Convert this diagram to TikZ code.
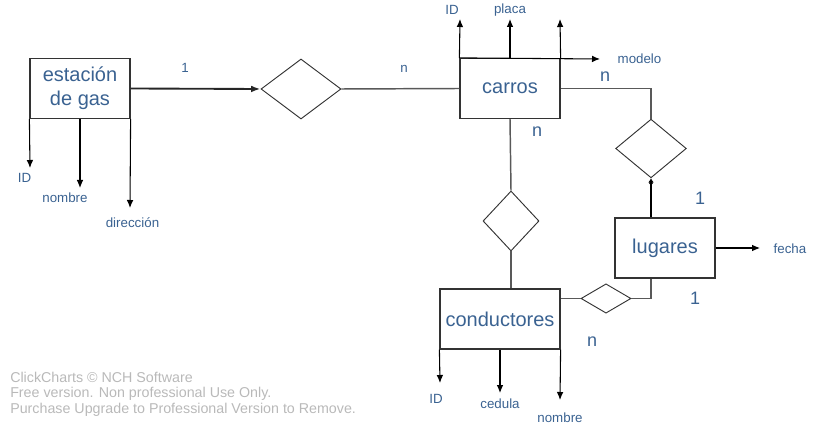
\documentclass[tikz,border=0pt]{standalone}
\usepackage{fontspec}
\setmainfont{Liberation Sans}
\usetikzlibrary{shapes.geometric,arrows.meta}
\definecolor{labelblue}{RGB}{58,98,145}
\definecolor{markgray}{RGB}{185,185,185}

\begin{document}
\begin{tikzpicture}[x=0.75pt,y=-0.75pt,
    entity/.style={draw=black!80, line width=0.9pt, rectangle, minimum width=75pt, minimum height=45pt, inner sep=0pt, text=labelblue, font=\fontsize{15}{18}\selectfont, align=center},
    relation/.style={draw=black!80, line width=0.7pt, diamond, inner sep=0pt},
    link/.style={draw=black!65, line width=1.1pt},
    attr/.style={draw=black, line width=0.8pt, -{Latex[length=6pt,width=5pt]}},
    attrname/.style={text=labelblue, font=\fontsize{10}{12}\selectfont, inner sep=0pt},
    card/.style={text=labelblue, font=\fontsize{13.5}{15}\selectfont, inner sep=0pt},
    smallcard/.style={text=labelblue, font=\fontsize{10}{12}\selectfont, inner sep=0pt},
    watermark/.style={text=markgray, font=\fontsize{10.7}{13}\selectfont, inner sep=0pt, anchor=west}]

    \useasboundingbox (0,0) rectangle (820,427);

    \node[entity] (gas) at (80,88.5) {estación\\de gas};
    \node[entity] (carros) at (510,88.5) {carros};
    \node[entity] (lugares) at (665,248) {lugares};
    \node[entity, minimum width=90pt] (conductores) at (500,319) {conductores};

    \node[relation, minimum width=60pt, minimum height=45pt] (gascarro) at (301,89) {};
    \node[relation, minimum width=53pt, minimum height=44pt] (carrolugar) at (651,148.5) {};
    \node[relation, minimum width=42pt, minimum height=45pt] (carroconductor) at (511,221) {};
    \node[relation, minimum width=37.5pt, minimum height=22pt] (conductorlugar) at (606,298.5) {};

    \draw[draw=black!85, line width=1.4pt, -{Latex[length=7pt,width=5pt]}] (gas.east) -- (gascarro.west);
    \draw[link] (gascarro.east) -- (carros.west);
    \draw[link] (carros.east) -| (carrolugar.north);
    \draw[draw=black, line width=0.8pt, -{Latex[length=3pt,width=4pt,reversed]Latex[length=3pt,width=4pt]}] (carrolugar.south |- lugares.north) -- (carrolugar.south);
    \draw[link] (carrolugar.south |- lugares.south) |- (conductorlugar.east);
    \draw[link] (conductorlugar.west) -- (conductorlugar.west -| conductores.east);
    \draw[link] (carros.south) -- (carroconductor.north);
    \draw[link] (carroconductor.south) -- (carroconductor.south |- conductores.north);

    \node[smallcard] (card1) at (185,68) {1};
    \node[smallcard] (card2) at (404,69) {n};
    \node[card] (card3) at (605,77) {n};
    \node[card] (card4) at (537,132) {n};
    \node[card] (card5) at (700,198) {1};
    \node[card] (card6) at (695,298) {1};
    \node[card] (card7) at (592,342) {n};

    \coordinate (gasidend) at (30,168);
    \coordinate (gasnombreend) at (80,188);
    \coordinate (gasdirend) at (130,208);
    \draw[attr] (gas.south west) -- (gasidend);
    \draw[attr] (gas.south) -- (gasnombreend);
    \draw[attr] (gas.south east) -- (gasdirend);
    \node[attrname] (gasid) at (24.5,178) {ID};
    \node[attrname] (gasnombre) at (65,198) {nombre};
    \node[attrname] (gasdir) at (132.5,223) {dirección};

    \coordinate (carroidend) at (460,19);
    \coordinate (carroplacaend) at (510,19);
    \coordinate (carrootroend) at (560,19);
    \coordinate (carromodeloend) at (600,59);
    \draw[attr] (carros.north west) -- (carroidend);
    \draw[attr] (carros.north) -- (carroplacaend);
    \draw[attr] (carros.north east) -- (carrootroend);
    \draw[attr] (carros.north west) -- (carromodeloend);
    \node[attrname] (carroid) at (452,10) {ID};
    \node[attrname] (carroplaca) at (510,10) {placa};
    \node[attrname] (carromodelo) at (639.5,59) {modelo};

    \coordinate (lugarfechaend) at (760,248);
    \draw[attr] (lugares.east) -- (lugarfechaend);
    \node[attrname] (lugarfecha) at (790,249) {fecha};

    \coordinate (condidend) at (440,383);
    \coordinate (condcedulaend) at (500,393);
    \coordinate (condnombreend) at (560,400);
    \draw[attr] (conductores.south west) -- (condidend);
    \draw[attr] (conductores.south) -- (condcedulaend);
    \draw[attr] (conductores.south east) -- (condnombreend);
    \node[attrname] (condid) at (436,399) {ID};
    \node[attrname] (condcedula) at (500,404) {cedula};
    \node[attrname] (condnombre) at (560,418) {nombre};

    \node[watermark] (mark1) at (10,377) {ClickCharts © NCH Software};
    \node[watermark] (mark2) at (10,394) {Free version. Non professional Use Only.};
    \node[watermark] (mark3) at (10,410) {Purchase Upgrade to Professional Version to Remove.};

\end{tikzpicture}
\end{document}
